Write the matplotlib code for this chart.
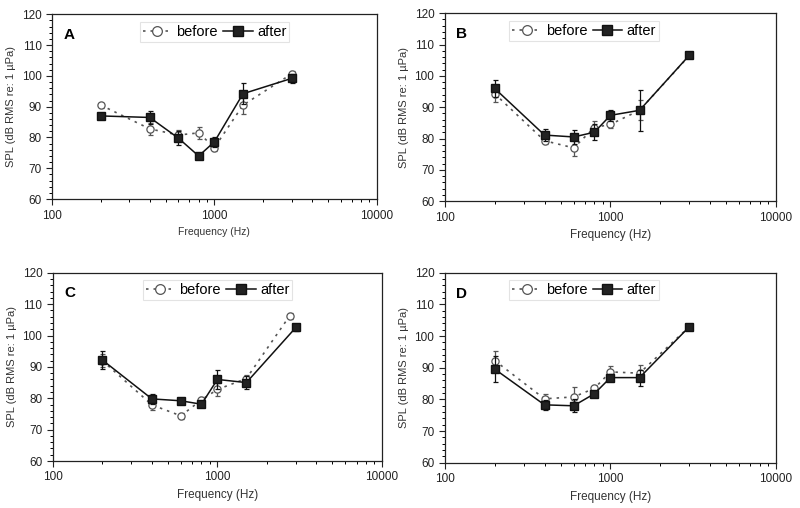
import numpy as np
import matplotlib
matplotlib.use('Agg')
import matplotlib.pyplot as plt
from matplotlib.lines import Line2D
from matplotlib.ticker import MultipleLocator, NullFormatter

# frequencies (Hz)
freq = [200, 400, 600, 800, 1000, 1500, 3000]
freq_before_C = [200, 400, 600, 800, 1000, 1500, 2750]

# panel A
A_before = [90.5, 82.8, 80.8, 81.5, 76.7, 90.5, 100.7]
A_before_err = [0.8, 2.0, 1.5, 2.0, 1.0, 2.8, 1.0]
A_after = [87.0, 86.5, 79.8, 74.0, 78.6, 94.2, 99.2]
A_after_err = [1.0, 2.0, 2.2, 0.6, 1.6, 3.4, 1.5]

# panel B
B_before = [94.3, 79.3, 77.0, 83.5, 84.5, 89.0, 106.5]
B_before_err = [2.5, 1.0, 2.5, 2.0, 1.0, 3.2, 0.8]
B_after = [96.0, 81.1, 80.5, 82.0, 87.4, 89.0, 106.6]
B_after_err = [2.8, 2.0, 2.3, 2.5, 1.8, 6.5, 1.0]

# panel C
C_before = [92.0, 77.9, 74.4, 79.5, 82.8, 86.3, 106.3]
C_before_err = [2.0, 1.5, 1.0, 1.0, 2.0, 1.0, 1.0]
C_after = [92.2, 79.8, 79.2, 78.1, 86.0, 85.0, 102.6]
C_after_err = [3.0, 1.5, 1.0, 1.0, 3.0, 2.0, 1.0]

# panel D
D_before = [92.3, 80.2, 80.8, 83.5, 88.7, 88.3, 103.0]
D_before_err = [3.0, 1.5, 3.0, 1.0, 2.0, 2.5, 0.5]
D_after = [89.6, 78.3, 78.0, 81.8, 86.9, 86.9, 103.0]
D_after_err = [4.0, 1.5, 2.0, 1.0, 1.0, 2.5, 0.5]

panels = [
    ('A', freq, A_before, A_before_err, A_after, A_after_err, [0.065, 0.608, 0.406, 0.364]),
    ('B', freq, B_before, B_before_err, B_after, B_after_err, [0.556, 0.604, 0.414, 0.370]),
    ('C', freq_before_C, C_before, C_before_err, C_after, C_after_err, [0.066, 0.0925, 0.4115, 0.3705]),
    ('D', freq, D_before, D_before_err, D_after, D_after_err, [0.556, 0.089, 0.414, 0.374]),
]

plt.rcParams['font.family'] = 'Liberation Sans'

fig = plt.figure(figsize=(8.0, 5.08), dpi=100)
fig.set_facecolor('white')

before_style = dict(color='#555555', ls=(0, (1.5, 3)), lw=1.2, marker='o', mfc='white',
                    mec='#555555', mew=0.9)
after_style = dict(color='#111111', ls='-', lw=1.1, marker='s', mfc='#222222', mec='#111111')

for label, fb, before, before_err, after, after_err, rect in panels:
    ax = fig.add_axes(rect)
    ax.errorbar(fb, before, yerr=before_err, ms=5.2, capsize=1.8, elinewidth=0.9,
                capthick=0.9, zorder=2, **before_style)
    ax.errorbar(freq, after, yerr=after_err, ms=5.2, capsize=1.8, elinewidth=0.9,
                capthick=0.9, zorder=3, **after_style)

    ax.set_xscale('log')
    ax.set_xlim(100, 10000)
    ax.set_ylim(60, 120)
    ax.yaxis.set_major_locator(MultipleLocator(10))
    ax.yaxis.set_minor_locator(MultipleLocator(2))
    ax.set_xticks([100, 1000, 10000])
    ax.set_xticklabels(['100', '1000', '10000'])
    ax.xaxis.set_minor_formatter(NullFormatter())
    ax.tick_params(axis='both', which='major', direction='out', length=4, width=0.8,
                   labelsize=8.5, colors='#222222', top=False, right=False)
    ax.tick_params(axis='both', which='minor', direction='out', length=2.5, width=0.7,
                   top=False, right=False)
    for s in ax.spines.values():
        s.set_linewidth(0.9)
        s.set_color('#222222')

    ax.set_xlabel('Frequency (Hz)', fontsize=7.5 if label == 'A' else 8.5, color='#333333')
    ax.set_ylabel('SPL (dB RMS re: 1 \u00b5Pa)', fontsize=8, color='#333333')

    ax.text(0.035, 0.89, label, transform=ax.transAxes, fontsize=11, fontweight='bold',
            va='center', ha='left')

    handles = [Line2D([], [], ms=7, **before_style), Line2D([], [], ms=7, **after_style)]
    leg = ax.legend(handles, ['before', 'after'], loc='upper center',
                    bbox_to_anchor=(0.5 if label in 'AC' else 0.42, 0.975),
                    ncol=2, fontsize=10.5, frameon=True, fancybox=False, handlelength=2.0,
                    handletextpad=0.3, columnspacing=0.4, borderpad=0.2, borderaxespad=0.2)
    leg.get_frame().set_edgecolor('#dddddd')
    leg.get_frame().set_linewidth(0.8)

fig.savefig('out.png', dpi=100, facecolor='white')
